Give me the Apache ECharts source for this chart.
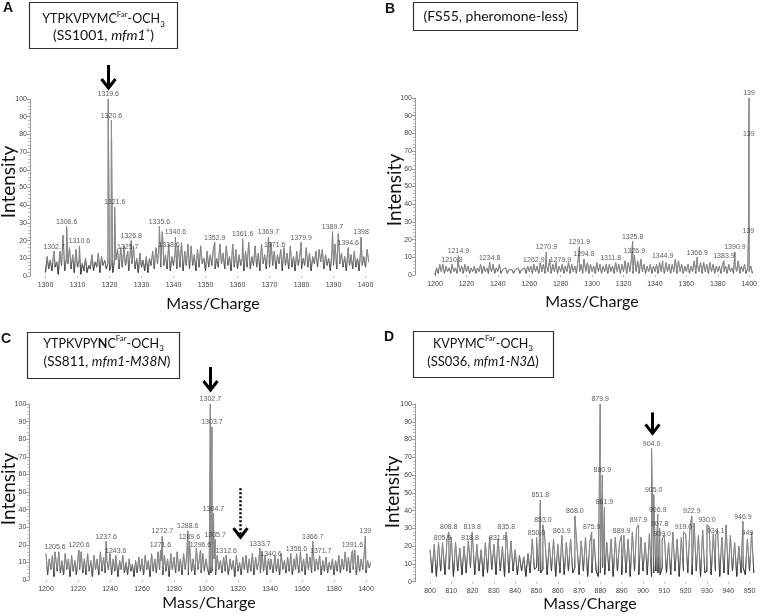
<!DOCTYPE html>
<html><head><meta charset="utf-8">
<script src="https://cdn.jsdelivr.net/npm/echarts@6/dist/echarts.min.js"></script>
<style>html,body{margin:0;padding:0;background:#fff}#c{width:760px;height:616px}</style>
</head><body><div id="c"></div>
<script>
// ---------- Panel A ----------
const aNoiseStart = 1300, aNoiseStep = 0.5;
const aNoise = [
 2,11,4,9,3,12,5,8,1,14,
 6,23,3,10,7,16,4,12,2,15,
 5,9,1,7,3,10,2,6,4,12,
 3,8,5,13,2,11,6,9,4,7,
 3,6,2,8,9,15,4,16,5,17,
 6,12,3,14,7,17,4,10,2,13,
 5,9,3,11,2,10,6,14,4,16,
 7,18,5,25,6,12,4,18,3,11,
 6,13,4,17,5,19,3,14,6,18,
 4,17,6,12,3,15,5,17,7,10,
 3,14,5,12,6,16,4,10,5,18,
 7,13,4,17,6,11,3,18,5,15,
 4,12,6,10,3,14,5,19,4,11,
 6,17,5,13,3,18,7,12,4,16,
 5,19,6,14,4,12,7,15,3,16,
 6,13,4,17,5,11,3,14,6,12,
 4,10,6,16,5,13,3,11,7,14,
 5,15,8,15,4,12,6,10,3,13,
 6,18,4,24,7,13,5,11,3,14,
 6,12,4,14,5,10,3,15,6,11,
 5,15,8];
const aPeakMz = [1302.7,1306.6,1310.6,1319.6,1320.6,1321.6,1325.7,1326.8,1335.6,1338.6,1340.6,1352.9,1361.6,1369.7,1371.6,1379.9,1389.7,1394.6,1398.6];
const aPeakInt = [14,28,17,100,88,39,14,20,28,15,22,19,21,22,15,19,25,16,22];
const aPeakLabel = ['1302.7','1306.6','1310.6','1319.6','1320.6','1321.6','1325.7','1326.8','1335.6','1338.6','1340.6','1352.9','1361.6','1369.7','1371.6','1379.9','1389.7','1394.6','1398'];

// ---------- Panel B ----------
const bNoiseStart = 1200, bNoiseStep = 1;
const bNoise = [
 0,4,1,6,2,6,1,5,2,4,
 1,5,2,4,1,6,2,5,1,6,
 2,5,1,4,2,5,1,4,2,6,
 1,5,2,4,1,5,2,6,1,4,
 2,6,1,3,2,4,1,3,2,3,
 1,3,2,4,1,3,2,4,1,5,
 2,5,1,6,2,5,1,7,2,6,
 1,5,2,9,1,6,2,7,1,5,
 2,6,1,5,2,7,1,6,2,5,
 1,8,2,6,1,9,2,7,1,6,
 2,5,1,7,2,6,1,5,2,6,
 1,6,2,5,1,7,2,6,1,6,
 2,8,1,7,2,9,1,10,2,8,
 1,9,2,6,1,5,2,6,1,5,
 2,6,1,7,2,5,1,7,2,6,
 1,6,2,9,1,8,2,6,1,5,
 2,6,1,5,2,8,1,6,2,7,
 1,7,2,6,1,7,2,6,1,5,
 2,5,1,6,2,5,1,6,2,4,
 1,6,2,8,1,5,2,6,1,4,
 2,5,1];
const bPeakMz = [1210.8,1214.9,1234.8,1262.9,1270.9,1279.9,1291.9,1294.8,1311.8,1325.8,1326.9,1344.9,1366.9,1383.9,1390.9,1399.5,1399.7,1399.9];
const bPeakInt = [6,11,7,6,13,6,16,9,7,19,11,8,10,8,13,22,77,100];
const bPeakLabel = ['1210.8','1214.9','1234.8','1262.9','1270.9','1279.9','1291.9','1294.8','1311.8','1325.8','1326.9','1344.9','1366.9','1383.9','1390.9','139','139','139'];

// ---------- Panel C ----------
const cNoiseStart = 1200, cNoiseStep = 1;
const cNoise = [
 15,3,12,6,14,2,13,5,16,4,
 11,3,15,6,12,2,14,5,11,3,
 13,6,16,4,12,3,15,5,11,2,
 14,6,12,3,16,5,13,4,11,6,
 15,3,12,5,13,2,11,6,14,4,
 10,3,12,5,9,2,11,4,13,5,
 12,3,14,6,11,2,15,5,12,4,
 16,6,11,3,14,5,12,2,15,6,
 13,4,16,5,12,3,15,6,14,3,
 16,5,12,3,18,6,13,4,15,5,
 12,6,3,4,5,12,3,14,6,11,
 4,13,5,10,3,12,6,11,2,14,
 5,10,3,13,6,14,4,12,5,15,
 3,13,6,11,4,16,5,14,3,12,
 6,11,4,14,5,12,3,15,6,11,
 4,13,5,15,3,12,6,14,4,16,
 5,12,3,15,6,13,4,17,5,12,
 6,14,3,11,5,13,4,10,6,12,
 3,11,5,14,4,12,6,16,5,13,
 4,15,6,17,3,14,5,12,6,16,
 4,11,7,10];
const cPeakMz = [1205.6,1220.6,1237.6,1243.6,1271.6,1272.7,1288.6,1289.6,1296.6,1302.7,1303.7,1304.7,1305.7,1312.6,1333.7,1340.6,1356.6,1366.7,1371.7,1391.6,1399.6];
const cPeakInt = [16,17,22,14,17,25,28,22,17,100,87,38,23,14,18,12,15,22,14,17,25];
const cPeakLabel = ['1205.6','1220.6','1237.6','1243.6','1271.6','1272.7','1288.6','1289.6','1296.6','1302.7','1303.7','1304.7','1305.7','1312.6','1333.7','1340.6','1356.6','1366.7','1371.7','1391.6','139'];

// ---------- Panel D ----------
const dNoiseStart = 800, dNoiseStep = 1;
const dNoise = [
 18,5,21,3,22,6,20,4,24,7,
 25,3,22,6,19,4,20,5,23,8,
 24,4,21,6,18,3,22,5,25,7,
 21,4,24,6,20,3,26,5,23,6,
 18,4,15,6,14,3,16,5,24,7,
 8,6,5,7,23,4,22,6,24,3,
 21,5,23,4,22,6,24,5,8,20,
 4,23,6,25,3,22,5,24,6,3,
 5,8,4,22,6,24,3,25,6,22,
 4,26,5,24,3,28,6,30,4,25,
 6,22,4,27,3,5,6,5,4,8,
 26,5,22,4,28,6,24,3,25,6,
 27,5,30,4,33,6,26,3,29,5,
 6,31,4,27,6,29,3,25,5,32,
 4,26,6,22,3,20,5,8,4,24,
 6,28,5];
const dPeakMz = [805.9,808.8,818.8,819.8,831.8,835.8,850.0,851.8,853.0,861.9,868.0,875.9,879.9,880.9,881.9,889.9,897.9,904.0,905.0,906.9,907.8,909.0,919.0,922.9,930.0,934.1,946.9,949.0];
const dPeakInt = [22,28,22,28,22,28,25,46,32,26,37,28,100,60,42,26,32,75,49,38,30,24,28,37,32,26,34,25];
const dPeakLabel = ['805.9','808.8','818.8','819.8','831.8','835.8','850.0','851.8','853.0','861.9','868.0','875.9','879.9','880.9','881.9','889.9','897.9','904.0','905.0','906.9','907.8','909.0','919.0','922.9','930.0','934.1','946.9','949'];

// ---------- build ----------
function spectrum(start, step, noise, mz, inten) {
  const pts = noise.map((v, i) => [+(start + i * step).toFixed(2), v]);
  mz.forEach((m, i) => pts.push([m, inten[i]]));
  pts.sort((p, q) => p[0] - q[0]);
  return pts;
}
function labels(mz, inten, lab) {
  return mz.map((m, i) => ({ value: [m, inten[i]], name: lab[i] }));
}

const panels = [
  { grid: {left: 45.5, top: 99, width: 323.2, height: 177}, xmin: 1300, xmax: 1401, xint: 10, yoff: 15.5,
    data: spectrum(aNoiseStart, aNoiseStep, aNoise, aPeakMz, aPeakInt), lab: labels(aPeakMz, aPeakInt, aPeakLabel), dark: 0.9 },
  { grid: {left: 435, top: 98, width: 323.2, height: 177}, xmin: 1200, xmax: 1402, xint: 20, yoff: 20,
    data: spectrum(bNoiseStart, bNoiseStep, bNoise, bPeakMz, bPeakInt), lab: labels(bPeakMz, bPeakInt, bPeakLabel), dark: 0.96 },
  { grid: {left: 46, top: 404, width: 324.8, height: 176}, xmin: 1200, xmax: 1403, xint: 20, yoff: 16.7,
    data: spectrum(cNoiseStart, cNoiseStep, cNoise, cPeakMz, cPeakInt), lab: labels(cPeakMz, cPeakInt, cPeakLabel), dark: 0.92 },
  { grid: {left: 430, top: 404, width: 323.8, height: 177.7}, xmin: 800, xmax: 952, xint: 10, yoff: 15,
    data: spectrum(dNoiseStart, dNoiseStep, dNoise, dPeakMz, dPeakInt), lab: labels(dPeakMz, dPeakInt, dPeakLabel), dark: 0.86 }
];

const tickFont = {fontFamily: 'Liberation Sans', fontSize: 7, color: '#444'};
const option = { animation: false, backgroundColor: '#fff', grid: [], xAxis: [], yAxis: [], series: [] };
panels.forEach((p, i) => {
  option.grid.push(Object.assign({containLabel: false}, p.grid));
  option.xAxis.push({
    type: 'value', gridIndex: i, min: p.xmin, max: p.xmax, interval: p.xint,
    axisLine: {show: false}, splitLine: {show: false},
    axisTick: {show: true, length: 2, lineStyle: {color: '#bbb'}},
    axisLabel: Object.assign({margin: 6, showMaxLabel: false,
      formatter: v => (v % p.xint === 0 ? String(v) : '')}, tickFont)
  });
  option.yAxis.push({
    type: 'value', gridIndex: i, min: 0, max: 100, interval: 10, offset: p.yoff,
    axisLine: {show: true, lineStyle: {color: '#999', width: 1}},
    axisTick: {show: true, length: 3, lineStyle: {color: '#999'}},
    minorTick: {show: true, splitNumber: 5, length: 2, lineStyle: {color: '#bbb'}},
    splitLine: {show: false},
    axisLabel: Object.assign({margin: 3}, tickFont)
  });
  option.series.push({
    type: 'line', xAxisIndex: i, yAxisIndex: i, data: p.data, showSymbol: false, symbol: 'none',
    lineStyle: {width: 0.9, color: {type: 'linear', x: 0, y: 0, x2: 0, y2: 1, colorStops: [
      {offset: 0, color: '#8e8e8e'}, {offset: p.dark, color: '#858585'}, {offset: 1, color: '#1e1e1e'}]}},
    z: 2
  });
  option.series.push({
    type: 'scatter', xAxisIndex: i, yAxisIndex: i, data: p.lab, symbolSize: 0.1,
    itemStyle: {color: 'rgba(0,0,0,0)'},
    label: {show: true, position: 'top', distance: 1, formatter: '{b}',
      fontFamily: 'Liberation Sans', fontSize: 7, color: '#333'},
    z: 3
  });
});

const chart = echarts.init(document.getElementById('c'), null, {renderer: 'canvas'});
chart.setOption(option);

// ---------- annotations ----------
const boxFont = 'Lato';
function richSet(size) {
  return {
    n: {fontFamily: boxFont, fontSize: size, lineHeight: 18, fill: '#111'},
    b: {fontFamily: boxFont, fontSize: size, lineHeight: 18, fontWeight: 'bold', fill: '#111'},
    i: {fontFamily: boxFont, fontSize: size, lineHeight: 18, fontStyle: 'italic', fill: '#111'},
    sup: {fontFamily: boxFont, fontSize: 8, lineHeight: 11, verticalAlign: 'top', fill: '#111'},
    sub: {fontFamily: boxFont, fontSize: 8, lineHeight: 10, verticalAlign: 'bottom', fill: '#111'}
  };
}
function txt(x, y, text, size) {
  return {type: 'text', x: x, y: y, z: 10, style: {text: text, rich: richSet(size), align: 'center', verticalAlign: 'middle'}};
}
function box(x, y, w, h) {
  return {type: 'rect', shape: {x: x, y: y, width: w, height: h}, z: 9, style: {fill: '#fff', stroke: '#333', lineWidth: 1.2}};
}
function letter(x, y, t) {
  return {type: 'text', x: x, y: y, z: 10, style: {text: t, font: 'bold 14px "Liberation Sans"', fill: '#111', align: 'center', verticalAlign: 'middle'}};
}
function axisName(x, y, t, rot, size) {
  return {type: 'text', x: x, y: y, rotation: rot ? Math.PI / 2 : 0, z: 10,
    style: {text: t, font: size + 'px Lato', fill: '#111', align: 'center', verticalAlign: 'middle'}};
}
function arrow(gi, mz, level, top, bottom, dotted) {
  const pt = chart.convertToPixel({gridIndex: gi}, [mz, level]);
  const x = Math.round(pt[0]) + 0.5, y1 = pt[1] - top, y2 = pt[1] - bottom;
  return [
    {type: 'polyline', z: 11, shape: {points: [[x, y1], [x, y2 - 2]]},
      style: {stroke: '#000', lineWidth: dotted ? 2.5 : 3, lineDash: dotted ? [2, 2] : null, fill: null}},
    {type: 'polyline', z: 11, shape: {points: [[x - 7, y2 - 9], [x, y2], [x + 7, y2 - 9]]},
      style: {stroke: '#000', lineWidth: 3, fill: null, lineJoin: 'miter'}}
  ];
}

const g = [
  letter(8, 8, 'A'), letter(390, 9, 'B'), letter(6, 339, 'C'), letter(389, 337, 'D'),
  box(29.5, 2.5, 148, 46), txt(103.5, 19, '{n|YTPKVPYMC}{sup|Far}{n|-OCH}{sub|3}', 12.5), txt(103.5, 35.5, '{n|(SS1001, }{i|mfm1}{sup|+}{n|)}', 14),
  box(413.5, 2.5, 164, 28), txt(495.5, 16, '{n|(FS55, pheromone-less)}', 14),
  box(27.5, 332.5, 152, 46), txt(103.5, 343.5, '{n|YTPKVPY}{b|N}{n|C}{sup|Far}{n|-OCH}{sub|3}', 12.5), txt(107, 362, '{n|(SS811, }{i|mfm1-M38N}{n|)}', 13.5),
  box(413.5, 331.5, 140, 46), txt(483, 343.5, '{n|KVPYMC}{sup|Far}{n|-OCH}{sub|3}', 12.5), txt(483, 362, '{n|(SS036, }{i|mfm1-N3Δ}{n|)}', 13),
  axisName(9, 182, 'Intensity', true, 19), axisName(395, 190, 'Intensity', true, 19),
  axisName(9, 489, 'Intensity', true, 19), axisName(393, 492, 'Intensity', true, 19),
  axisName(213, 304, 'Mass/Charge', false, 16), axisName(592, 302, 'Mass/Charge', false, 16),
  axisName(209, 603, 'Mass/Charge', false, 16), axisName(590, 604, 'Mass/Charge', false, 16)
].concat(
  arrow(0, 1319.6, 100, 34, 11, false),
  arrow(2, 1302.7, 100, 37, 14, false),
  arrow(3, 904.0, 75, 36, 15, false),
  arrow(2, 1321, 30, 39, -10, true)
);
chart.setOption({graphic: {elements: g}});
</script>
</body></html>
